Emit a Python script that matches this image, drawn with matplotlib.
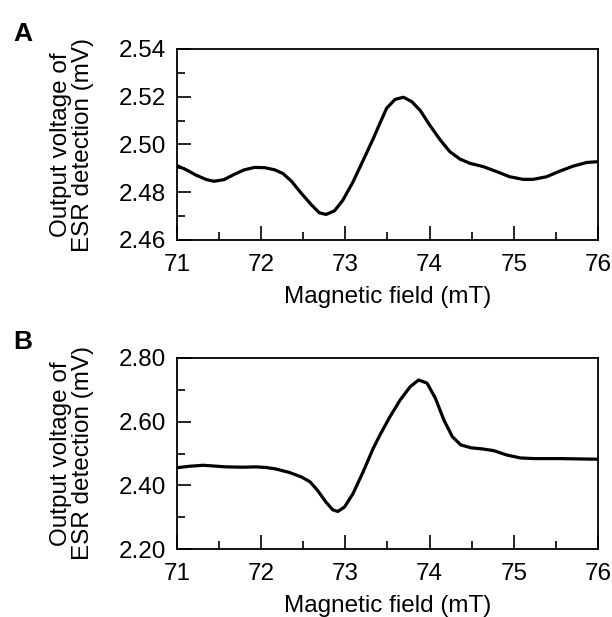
import matplotlib
matplotlib.use("Agg")
from matplotlib import pyplot as plt
from matplotlib.ticker import MultipleLocator, FormatStrFormatter

plt.rcParams['font.family'] = ['Liberation Sans', 'DejaVu Sans']

# panel A trace
field_a = [70.99, 71.11, 71.23, 71.35, 71.44, 71.56, 71.68, 71.80, 71.92, 72.04,
           72.16, 72.26, 72.36, 72.48, 72.60, 72.69, 72.77, 72.87, 72.97, 73.09,
           73.21, 73.33, 73.41, 73.49, 73.59, 73.69, 73.79, 73.89, 74.00, 74.12,
           74.24, 74.36, 74.48, 74.64, 74.80, 74.95, 75.11, 75.23, 75.39, 75.55,
           75.71, 75.87, 76.0]
volt_a = [2.4913, 2.4894, 2.4871, 2.4853, 2.4846, 2.4853, 2.4875, 2.4894, 2.4904, 2.4903,
          2.4894, 2.4878, 2.4846, 2.4794, 2.4746, 2.4714, 2.4707, 2.4722, 2.4767, 2.4843,
          2.4933, 2.5024, 2.5089, 2.5152, 2.5189, 2.5198, 2.5179, 2.5142, 2.5082, 2.5022,
          2.4970, 2.4939, 2.4921, 2.4907, 2.4886, 2.4865, 2.4854, 2.4854, 2.4865, 2.4889,
          2.4910, 2.4925, 2.4928]

# panel B trace
field_b = [70.99, 71.15, 71.31, 71.42, 71.58, 71.78, 71.94, 72.06, 72.18, 72.34,
           72.48, 72.58, 72.67, 72.77, 72.85, 72.91, 72.99, 73.09, 73.21, 73.33,
           73.41, 73.53, 73.65, 73.77, 73.87, 73.97, 74.07, 74.17, 74.27, 74.37,
           74.49, 74.64, 74.76, 74.92, 75.08, 75.24, 75.55, 76.0]
volt_b = [2.455, 2.460, 2.463, 2.461, 2.458, 2.457, 2.458, 2.456, 2.451, 2.440,
          2.426, 2.411, 2.384, 2.347, 2.323, 2.318, 2.332, 2.374, 2.442, 2.516,
          2.558, 2.616, 2.668, 2.710, 2.731, 2.721, 2.673, 2.605, 2.553, 2.527,
          2.518, 2.514, 2.509, 2.495, 2.486, 2.484, 2.484, 2.482]

xticks = [71, 72, 73, 74, 75, 76]
ylim_a = (2.46, 2.54)
ylim_b = (2.20, 2.80)

fs = 17.5
fig = plt.figure(figsize=(6.12, 6.17), dpi=100)
ax_a = fig.add_axes([177 / 612, 1 - 240 / 617, 421 / 612, 191 / 617])
ax_b = fig.add_axes([177 / 612, 1 - 549 / 617, 421 / 612, 191 / 617])


def style_axis(ax, x, y, ylim, ymajor, yminor, letter, letter_y):
    ax.plot(x, y, color='black', lw=2.3, solid_joinstyle='round', solid_capstyle='round')
    ax.set_xlim(71, 76)
    ax.set_ylim(*ylim)
    ax.set_xticks(xticks)
    ax.xaxis.set_minor_locator(MultipleLocator(0.5))
    ax.yaxis.set_major_locator(MultipleLocator(ymajor))
    ax.yaxis.set_minor_locator(MultipleLocator(yminor))
    ax.yaxis.set_major_formatter(FormatStrFormatter('%.2f'))
    ax.tick_params(which='major', direction='in', length=10, width=1.2,
                   labelsize=fs, top=False, right=False)
    ax.tick_params(which='minor', direction='in', length=6, width=1.2,
                   top=False, right=False)
    ax.tick_params(axis='x', which='major', pad=10)
    ax.tick_params(axis='y', which='major', pad=8)
    for s in ax.spines.values():
        s.set_linewidth(1.3)
    ax.set_xlabel('Magnetic field (mT)', fontsize=fs, labelpad=7)
    ax.set_ylabel('Output voltage of\nESR detection (mV)', fontsize=fs, linespacing=1.05)
    ax.yaxis.set_label_coords(-0.196, 0.5)
    fig.text(13 / 612, 1 - letter_y / 617, letter, fontsize=19, fontweight='bold',
             va='baseline', ha='left')


style_axis(ax_a, field_a, volt_a, ylim_a, 0.02, 0.01, 'A', 41)
style_axis(ax_b, field_b, volt_b, ylim_b, 0.2, 0.1, 'B', 349)

plt.savefig('out.png', dpi=100)
